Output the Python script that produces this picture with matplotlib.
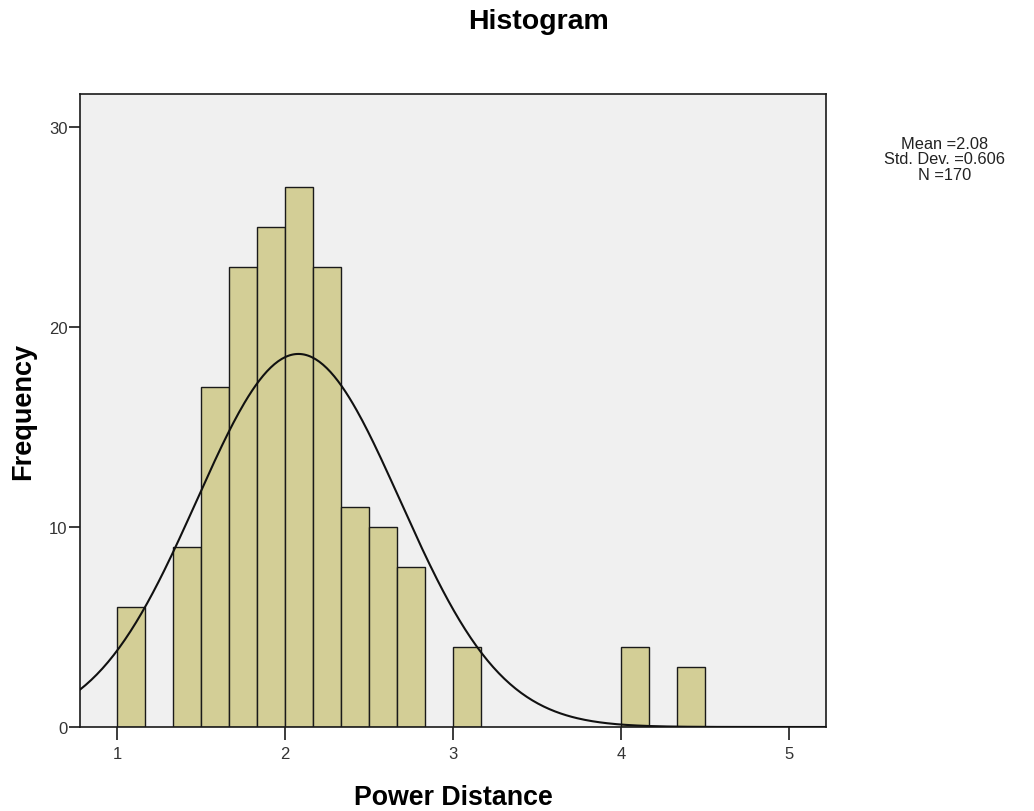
"""
SPSS style histogram of Power Distance with a fitted normal curve.
"""

import matplotlib
matplotlib.use('Agg')
import matplotlib.pyplot as plt
import numpy as np

plt.rcParams['font.family'] = ['Liberation Sans', 'DejaVu Sans']

# Left edges of the bins (bin width is 1/6) and the frequency in each bin.
BIN_WIDTH = 1 / 6
bin_left = [1.0, 1 + 2 / 6, 1 + 3 / 6, 1 + 4 / 6, 1 + 5 / 6, 2.0,
            2 + 1 / 6, 2 + 2 / 6, 2 + 3 / 6, 2 + 4 / 6, 3.0, 4.0, 4 + 2 / 6]
counts = [6, 9, 17, 23, 25, 27, 23, 11, 10, 8, 4, 4, 3]

MEAN = 2.08
STD_DEV = 0.606
N = 170

x_ticks = [1, 2, 3, 4, 5]
y_ticks = [0, 10, 20, 30]

BAR_COLOR = '#d3ce96'
PANEL_COLOR = '#f0f0f0'


def main():
    fig = plt.figure(figsize=(10.34, 8.12), dpi=100)
    axes = fig.add_axes([80 / 1034, 84 / 812, 746 / 1034, 633 / 812])
    axes.set_facecolor(PANEL_COLOR)

    axes.bar(bin_left, counts, width=BIN_WIDTH, align='edge',
             color=BAR_COLOR, edgecolor='#1a1a1a', linewidth=1.0, zorder=2)

    # normal curve scaled to the histogram.
    xmin, xmax = 0.78, 5.22
    grid = np.linspace(xmin, xmax, 400)
    scale = N * BIN_WIDTH / (STD_DEV * np.sqrt(2 * np.pi))
    curve = scale * np.exp(-0.5 * ((grid - MEAN) / STD_DEV) ** 2)
    axes.plot(grid, curve, color='#111111', linewidth=1.5, zorder=3)

    axes.set_xlim(xmin, xmax)
    axes.set_ylim(0, 31.65)
    axes.set_xticks(x_ticks)
    axes.set_yticks(y_ticks)
    axes.tick_params(axis='x', length=9, width=1.2, colors='#1a1a1a',
                     labelcolor='#333333', labelsize=12, pad=5)
    axes.tick_params(axis='y', length=8, width=1.2, colors='#1a1a1a',
                     labelcolor='#333333', labelsize=12, pad=1)
    for spine in axes.spines.values():
        spine.set_linewidth(1.2)
        spine.set_color('#1a1a1a')

    axes.set_xlabel('Power Distance', fontsize=19.3, fontweight='bold',
                    labelpad=16)
    axes.set_ylabel('Frequency', fontsize=19.5, fontweight='bold',
                    labelpad=9)

    fig.text(538 / 1034, 1 - 22 / 812, 'Histogram', ha='center',
             va='center', fontsize=20.5, fontweight='bold')
    fig.text(945 / 1034, 1 - 160 / 812,
             f'Mean ={MEAN:.2f}\nStd. Dev. ={STD_DEV:.3f}\nN ={N}',
             ha='center', va='center', fontsize=11.8, linespacing=1.05,
             color='#222222')

    fig.savefig('out.png', dpi=100, facecolor='white')


if __name__ == '__main__':
    main()
